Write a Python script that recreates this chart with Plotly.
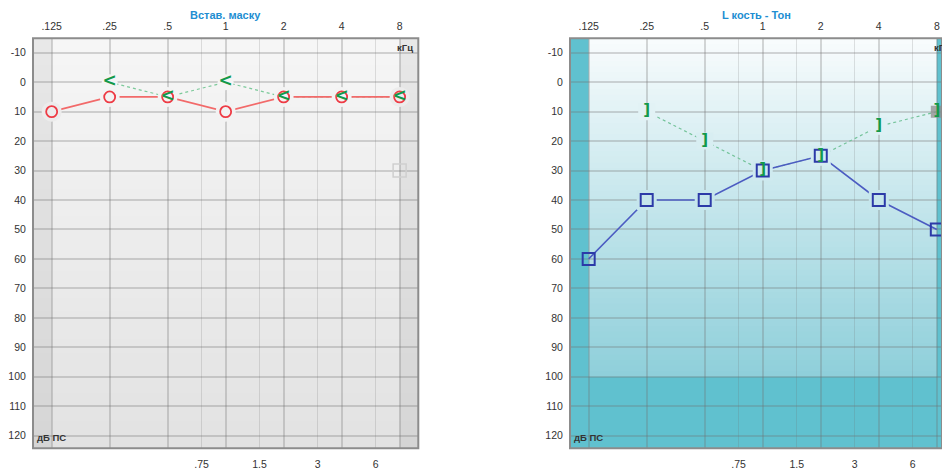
import numpy as np
import plotly.graph_objects as go

# ---- data -------------------------------------------------------------
octave_freqs = [0.125, 0.25, 0.5, 1, 2, 4, 8]
octave_labels = [".125", ".25", ".5", "1", "2", "4", "8"]
mid_freqs = [0.75, 1.5, 3, 6]
mid_labels = [".75", "1.5", "3", "6"]
db_ticks = list(range(-10, 130, 10))

# left panel: insert earphones, masked
left_air_db = [10, 5, 5, 10, 5, 5, 5]
left_mask_freqs = [0.25, 0.5, 1, 2, 4, 8]
left_mask_db = [0, 5, 0, 5, 5, 5]
left_grey_freqs = [8]
left_grey_db = [30]

# right panel: left bone conduction, tone
right_bone_db = [60, 40, 40, 30, 25, 40, 50]
right_bracket_freqs = [0.25, 0.5, 1, 2, 4, 8]
right_bracket_db = [10, 20, 30, 25, 15, 10]
right_grey_freqs = [8]
right_grey_db = [10]

# ---- styling ----------------------------------------------------------
W, H = 942, 470
FONT = "Liberation Sans, Arial, sans-serif"
Y_TOP, Y_BOT = -14.9, 124.3
TITLE_BLUE = "#218ed2"
GRID = "rgba(110,110,110,0.28)"
GRID_MID = "rgba(110,110,110,0.2)"

dom_left = [33 / W, 418.3 / W]
dom_right = [570 / W, 1.0]
dom_y = [(H - 448.3) / H, (H - 38.3) / H]

GREY_TOP, GREY_BOT = (246, 246, 246), (226, 226, 226)
TEAL_TOP, TEAL_BOT = (249, 252, 253), (142, 207, 218)
TEAL = (96, 193, 207)
BAND_SHADE = 0.055


def mix(c1, c2, t):
    return tuple(a + (b - a) * t for a, b in zip(c1, c2))


def rgb(c):
    return "rgb(%d,%d,%d)" % tuple(round(v) for v in c)


def panel_color(panel, f, db):
    """Background colour of a panel at a given frequency / level."""
    edge = f <= 0.125 or f >= 8
    if panel == "left":
        c = mix(GREY_TOP, GREY_BOT, (db - Y_TOP) / (Y_BOT - Y_TOP))
        if edge:
            c = tuple(v * (1 - BAND_SHADE / 2) for v in c)
        return rgb(c)
    if db >= 100:
        return rgb(TEAL)
    return rgb(mix(TEAL_TOP, TEAL_BOT, (db - Y_TOP) / (100 - Y_TOP)))


fig = go.Figure()
shapes = []


def gradient(xref, yref, y_top, y_bot, c_top, c_bot, n=60):
    edges = np.linspace(y_top, y_bot, n + 1)
    for i in range(n):
        shapes.append(dict(type="rect", xref=xref + " domain", yref=yref,
                           x0=0, x1=1, y0=edges[i], y1=edges[i + 1] + 0.3,
                           line=dict(width=0), fillcolor=rgb(mix(c_top, c_bot, (i + 0.5) / n)),
                           layer="below"))


# frequency bands outside the 125 Hz - 8 kHz test range
outer_bands = [(0.09, 0.125), (8, 11)]

# left panel background
gradient("x", "y", Y_TOP, Y_BOT, GREY_TOP, GREY_BOT)
for x0, x1 in outer_bands:
    shapes.append(dict(type="rect", xref="x", yref="y domain", x0=x0, x1=x1, y0=0, y1=1,
                       line=dict(width=0), fillcolor="rgba(0,0,0,%g)" % BAND_SHADE, layer="below"))

# right panel background
gradient("x2", "y2", Y_TOP, 100, TEAL_TOP, TEAL_BOT)
shapes.append(dict(type="rect", xref="x2 domain", yref="y2", x0=0, x1=1, y0=100, y1=Y_BOT,
                   line=dict(width=0), fillcolor=rgb(TEAL), layer="below"))
for x0, x1 in outer_bands:
    shapes.append(dict(type="rect", xref="x2", yref="y2 domain", x0=x0, x1=x1, y0=0, y1=1,
                       line=dict(width=0), fillcolor=rgb(TEAL), layer="below"))

# panel frames
for xr, yr in [("x", "y"), ("x2", "y2")]:
    shapes.append(dict(type="rect", xref=xr + " domain", yref=yr + " domain",
                       x0=0, x1=1, y0=0, y1=1, line=dict(color="#8c8c8c", width=2),
                       fillcolor="rgba(0,0,0,0)", layer="above"))


def halo(panel, fx, fy, symbol, size, xa, ya):
    """Patch of background colour so connecting lines stop short of the symbols."""
    cols = [panel_color(panel, f, d) for f, d in zip(fx, fy)]
    return go.Scatter(x=fx, y=fy, mode="markers", xaxis=xa, yaxis=ya, hoverinfo="skip",
                      marker=dict(symbol=symbol, size=size, color=cols, line=dict(width=0)))


# ---- traces: left panel -----------------------------------------------
fig.add_trace(go.Scatter(x=left_mask_freqs, y=left_mask_db, mode="lines",
                         line=dict(color="#7cc99a", width=1.2, dash="dot"),
                         xaxis="x", yaxis="y", hoverinfo="skip"))
fig.add_trace(go.Scatter(x=octave_freqs, y=left_air_db, mode="lines",
                         line=dict(color="#f26a6a", width=1.6), xaxis="x", yaxis="y"))
fig.add_trace(halo("left", octave_freqs, left_air_db, "circle", 20, "x", "y"))
fig.add_trace(halo("left", left_mask_freqs, left_mask_db, "circle", 16, "x", "y"))
fig.add_trace(go.Scatter(x=octave_freqs, y=left_air_db, mode="markers",
                         marker=dict(symbol="circle-open", size=11, color="#ee3b45",
                                     line=dict(width=1.8, color="#ee3b45")),
                         xaxis="x", yaxis="y"))
fig.add_trace(go.Scatter(x=left_grey_freqs, y=left_grey_db, mode="markers",
                         marker=dict(symbol="square-open", size=13, color="#cfcfcf",
                                     line=dict(width=1.5, color="#cfcfcf")),
                         xaxis="x", yaxis="y"))
fig.add_trace(go.Scatter(x=left_mask_freqs, y=left_mask_db, mode="text", text=["<"] * len(left_mask_db),
                         textposition="middle center",
                         textfont=dict(family="DejaVu Sans", size=17, color="#13994a", weight="bold"),
                         xaxis="x", yaxis="y"))

# ---- traces: right panel ----------------------------------------------
# (points on the 8 kHz edge sit half over the side band, so they get no patch)
inner_f = octave_freqs[1:-1]
inner_db = right_bone_db[1:-1]
fig.add_trace(go.Scatter(x=right_bracket_freqs, y=right_bracket_db, mode="lines",
                         line=dict(color="#74c39a", width=1.2, dash="dot"),
                         xaxis="x2", yaxis="y2"))
fig.add_trace(go.Scatter(x=octave_freqs, y=right_bone_db, mode="lines",
                         line=dict(color="#4c5cc2", width=1.6), xaxis="x2", yaxis="y2"))
fig.add_trace(halo("right", inner_f, inner_db, "square", 20, "x2", "y2"))
fig.add_trace(halo("right", right_bracket_freqs[:-1], right_bracket_db[:-1], "square", 17, "x2", "y2"))
fig.add_trace(go.Scatter(x=octave_freqs, y=right_bone_db, mode="markers",
                         marker=dict(symbol="square-open", size=12, color="#2c3aa8",
                                     line=dict(width=2, color="#2c3aa8")),
                         xaxis="x2", yaxis="y2"))
fig.add_trace(go.Scatter(x=right_grey_freqs, y=right_grey_db, mode="markers",
                         marker=dict(symbol="square", size=12, color="rgba(140,140,140,0.75)"),
                         xaxis="x2", yaxis="y2"))
fig.add_trace(go.Scatter(x=right_bracket_freqs, y=right_bracket_db, mode="text",
                         text=["]"] * len(right_bracket_db), textposition="middle center",
                         textfont=dict(family="DejaVu Sans", size=15, color="#13994a", weight="bold"),
                         xaxis="x2", yaxis="y2"))

# ---- axes ---------------------------------------------------------------
tickfont = dict(family=FONT, size=10.5, color="#333333")
top_axis = dict(type="log", side="top", tickmode="array", tickvals=octave_freqs,
                ticktext=octave_labels, tickfont=tickfont, showgrid=True, gridcolor=GRID,
                gridwidth=1.6, zeroline=False, showline=False, ticks="outside", ticklen=3,
                tickcolor="rgba(0,0,0,0)", fixedrange=True)
bottom_axis = dict(type="log", side="bottom", tickmode="array", tickvals=mid_freqs,
                   ticktext=mid_labels, tickfont=tickfont, showgrid=True, gridcolor=GRID_MID,
                   gridwidth=1.3, zeroline=False, showline=False, ticks="outside", ticklen=6,
                   tickcolor="rgba(0,0,0,0)", fixedrange=True)
y_axis = dict(range=[Y_BOT, Y_TOP], tickmode="array", tickvals=db_ticks,
              ticktext=[str(v) for v in db_ticks],
              tickfont=tickfont, showgrid=True, gridcolor=GRID, gridwidth=1.6, zeroline=False,
              showline=False, ticks="outside", ticklen=4, tickcolor="rgba(0,0,0,0)",
              domain=dom_y, fixedrange=True)

fig.update_layout(
    width=W, height=H, margin=dict(l=0, r=0, t=0, b=0),
    paper_bgcolor="white", plot_bgcolor="rgba(0,0,0,0)", showlegend=False,
    xaxis=dict(top_axis, range=[-1.0, 1.0], domain=dom_left, anchor="y"),
    xaxis3=dict(bottom_axis, range=[-1.0, 1.0], overlaying="x", anchor="y"),
    yaxis=dict(y_axis, anchor="x"),
    xaxis2=dict(top_axis, range=[-1.0, 0.930], domain=dom_right, anchor="y2"),
    xaxis4=dict(bottom_axis, range=[-1.0, 0.930], overlaying="x2", anchor="y2"),
    yaxis2=dict(y_axis, anchor="x2"),
    shapes=shapes,
)

# invisible traces so the bottom axes get drawn
fig.add_trace(go.Scatter(x=[1], y=[None], xaxis="x3", yaxis="y", mode="markers", hoverinfo="skip"))
fig.add_trace(go.Scatter(x=[1], y=[None], xaxis="x4", yaxis="y2", mode="markers", hoverinfo="skip"))

# ---- titles and unit labels ---------------------------------------------
ann = []
for xr, title in [("x", "Встав. маску"), ("x2", "L кость - Тон")]:
    ann.append(dict(text="<b>%s</b>" % title, xref=xr + " domain", yref="paper", x=0.5,
                    y=(H - 15) / H, xanchor="center", yanchor="middle", showarrow=False,
                    font=dict(family=FONT, size=11, color=TITLE_BLUE)))
for xr, yr in [("x", "y"), ("x2", "y2")]:
    ann.append(dict(text="<b>кГц</b>", xref=xr, yref=yr + " domain", x=np.log10(8), y=1,
                    xanchor="left", yanchor="top", xshift=-5, yshift=-2, showarrow=False,
                    font=dict(family=FONT, size=9.5, color="#333333")))
    ann.append(dict(text="<b>дБ ПС</b>", xref=xr + " domain", yref=yr + " domain", x=0, y=0,
                    xanchor="left", yanchor="bottom", xshift=2, yshift=3, showarrow=False,
                    font=dict(family=FONT, size=9.5, color="#333333")))
fig.update_layout(annotations=ann)

fig.write_html("out.html")
